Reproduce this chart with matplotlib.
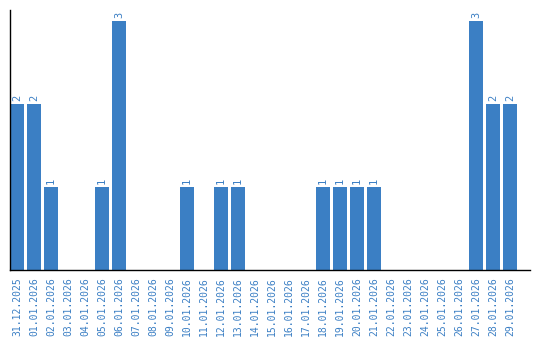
import matplotlib
matplotlib.use("Agg")
import matplotlib.pyplot as plt

dates = ["31.12.2025", "01.01.2026", "02.01.2026", "03.01.2026", "04.01.2026",
         "05.01.2026", "06.01.2026", "07.01.2026", "08.01.2026", "09.01.2026",
         "10.01.2026", "11.01.2026", "12.01.2026", "13.01.2026", "14.01.2026",
         "15.01.2026", "16.01.2026", "17.01.2026", "18.01.2026", "19.01.2026",
         "20.01.2026", "21.01.2026", "22.01.2026", "23.01.2026", "24.01.2026",
         "25.01.2026", "26.01.2026", "27.01.2026", "28.01.2026", "29.01.2026"]
counts = [2, 2, 1, 0, 0, 1, 3, 0, 0, 0,
          1, 0, 1, 1, 0, 0, 0, 0, 1, 1,
          1, 1, 0, 0, 0, 0, 0, 3, 2, 2]

blue = "#3b7fc4"
plt.rcParams["font.family"] = "DejaVu Sans Mono"

fig = plt.figure(figsize=(5.4, 3.4), dpi=100)
ax = fig.add_axes([10/540, 70/340, 520/540, 260/340])

x = list(range(len(dates)))
ax.bar(x, counts, width=0.82, color=blue)

for i, c in zip(x, counts):
    if c > 0:
        ax.text(i, c + 0.03, str(c), rotation=90, ha="center", va="bottom",
                fontsize=7.5, color=blue)

ax.set_xlim(-0.41, 30.18)
ax.set_ylim(0, 3.13)
ax.set_xticks(x)
ax.set_xticklabels(dates, rotation=90, fontsize=7, color=blue)
ax.tick_params(axis="x", length=0, pad=5)
ax.set_yticks([])
for s in ["top", "right"]:
    ax.spines[s].set_visible(False)
ax.spines["left"].set_linewidth(1)
ax.spines["bottom"].set_linewidth(1)

fig.savefig("out.png", dpi=100)
